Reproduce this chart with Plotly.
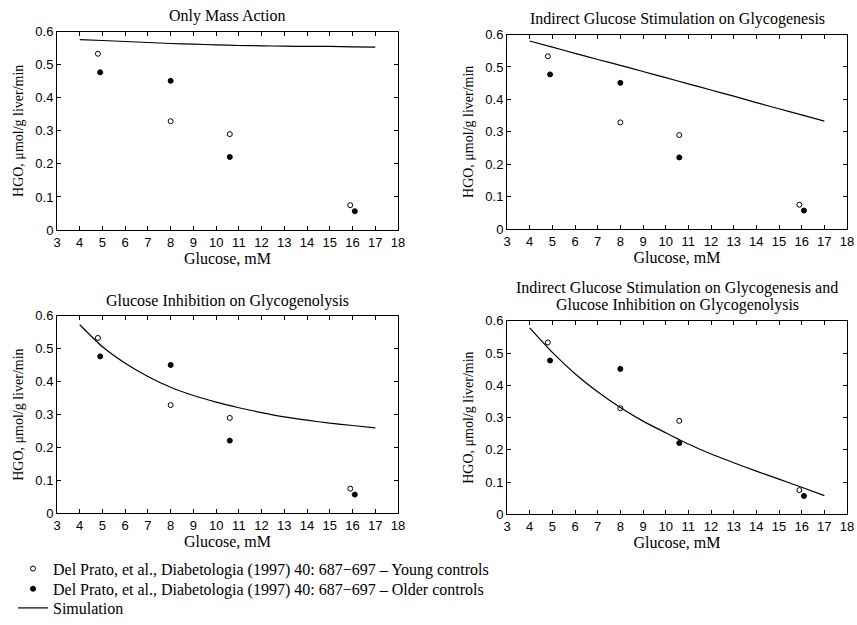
import plotly.graph_objects as go

# ---------------- data ----------------
young_glucose = [4.8, 8.0, 10.6, 15.9]
young_hgo = [0.533, 0.329, 0.290, 0.075]
older_glucose = [4.9, 8.0, 10.6, 16.1]
older_hgo = [0.477, 0.451, 0.221, 0.057]

sim_glucose = [4, 5, 6, 7, 8, 9, 10, 11, 12, 13, 14, 15, 16, 17]
sim_mass_action = [0.576, 0.573, 0.570, 0.567, 0.564, 0.562, 0.560, 0.558, 0.557, 0.556, 0.555, 0.555, 0.554, 0.553]
sim_stimulation = [0.580, 0.561, 0.542, 0.523, 0.505, 0.486, 0.467, 0.448, 0.429, 0.410, 0.390, 0.371, 0.352, 0.333]
sim_inhibition = [0.573, 0.506, 0.456, 0.416, 0.383, 0.358, 0.338, 0.321, 0.306, 0.293, 0.283, 0.274, 0.267, 0.260]
sim_combined = [0.578, 0.502, 0.436, 0.380, 0.331, 0.289, 0.253, 0.218, 0.187, 0.160, 0.134, 0.109, 0.084, 0.058]

panel_titles = [
    ["Only Mass Action"],
    ["Indirect Glucose Stimulation on Glycogenesis"],
    ["Glucose Inhibition on Glycogenolysis"],
    ["Indirect Glucose Stimulation on Glycogenesis and", "Glucose Inhibition on Glycogenolysis"],
]
sim_series = [sim_mass_action, sim_stimulation, sim_inhibition, sim_combined]

legend_young = "Del Prato, et al., Diabetologia (1997) 40: 687\u2212697 \u2013 Young controls"
legend_older = "Del Prato, et al., Diabetologia (1997) 40: 687\u2212697 \u2013 Older controls"
legend_sim = "Simulation"

x_ticks = list(range(3, 19))
y_ticks = [0, 0.1, 0.2, 0.3, 0.4, 0.5, 0.6]
x_label = "Glucose, mM"
y_label = "HGO, \u03bcmol/g liver/min"

# ---------------- layout geometry ----------------
W, H = 857, 625
# (left, right, top, bottom) in pixels
boxes = [
    (57, 398, 32, 233),
    (507, 847, 35, 232),
    (57, 398, 320, 520),
    (507, 847, 325, 521),
]
title_y = [[16], [19], [305], [292, 308.5]]
legend_rows_y = [576, 596.5, 616]

SERIF = "Liberation Serif, Times New Roman, serif"
SANS = "Liberation Sans, Arial, sans-serif"

fig = go.Figure()
layout = dict(
    width=W, height=H,
    margin=dict(l=0, r=0, t=0, b=0),
    paper_bgcolor="white", plot_bgcolor="white",
    showlegend=True,
    annotations=[],
)

for i, (l, r, t, b) in enumerate(boxes):
    n = i + 1
    xa = "x" if n == 1 else f"x{n}"
    ya = "y" if n == 1 else f"y{n}"
    xkey = "xaxis" if n == 1 else f"xaxis{n}"
    ykey = "yaxis" if n == 1 else f"yaxis{n}"
    layout[xkey] = dict(
        domain=[l / W, r / W], anchor=ya, range=[3, 18],
        tickvals=x_ticks, ticks="inside", ticklen=4, tickcolor="black",
        showline=True, linecolor="black", linewidth=1, mirror="ticks",
        showgrid=False, zeroline=False,
        tickfont=dict(family=SANS, size=13, color="black"),
        title=dict(text=x_label, font=dict(family=SERIF, size=16, color="black"), standoff=3),
        automargin=False,
    )
    layout[ykey] = dict(
        domain=[1 - b / H, 1 - t / H], anchor=xa, range=[0, 0.6],
        tickvals=y_ticks, ticks="inside", ticklen=4, tickcolor="black",
        showline=True, linecolor="black", linewidth=1, mirror="ticks",
        showgrid=False, zeroline=False,
        tickfont=dict(family=SANS, size=13, color="black"),
        title=dict(text=y_label, font=dict(family=SERIF, size=14, color="black"), standoff=8),
        automargin=False,
    )
    for line_text, ty in zip(panel_titles[i], title_y[i]):
        layout["annotations"].append(dict(
            text=line_text, x=(l + r) / 2 / W, y=1 - ty / H,
            xref="paper", yref="paper", xanchor="center", yanchor="middle",
            showarrow=False, font=dict(family=SERIF, size=16, color="black"),
        ))

    fig.add_trace(go.Scatter(
        x=young_glucose, y=young_hgo, xaxis=xa, yaxis=ya, mode="markers",
        marker=dict(symbol="circle", size=5, color="white", line=dict(color="black", width=1)),
        name=legend_young, showlegend=(n == 1), legend="legend",
    ))
    fig.add_trace(go.Scatter(
        x=older_glucose, y=older_hgo, xaxis=xa, yaxis=ya, mode="markers",
        marker=dict(symbol="circle", size=5, color="black", line=dict(color="black", width=1)),
        name=legend_older, showlegend=(n == 1), legend="legend2",
    ))
    fig.add_trace(go.Scatter(
        x=sim_glucose, y=sim_series[i], xaxis=xa, yaxis=ya, mode="lines",
        line=dict(color="black", width=1.2, shape="spline", smoothing=0.6),
        name=legend_sim, showlegend=(n == 1), legend="legend3",
    ))

for key, ry in zip(["legend", "legend2", "legend3"], legend_rows_y):
    layout[key] = dict(
        x=13 / W, y=1 - ry / H, xanchor="left", yanchor="middle",
        font=dict(family=SERIF, size=16, color="black"),
        bgcolor="rgba(0,0,0,0)", borderwidth=0,
        itemclick=False, itemdoubleclick=False,
    )

fig.update_layout(**layout)
fig.write_html(
    "out.html",
    config={"displayModeBar": False},
    post_script=(
        "document.documentElement.style.overflow='hidden';"
        "document.body.style.margin='0';"
        "document.body.style.overflow='hidden';"
        "var gd=document.getElementById('{plot_id}');"
        "gd.style.position='fixed';gd.style.top='0px';gd.style.left='0px';"
    ),
)
